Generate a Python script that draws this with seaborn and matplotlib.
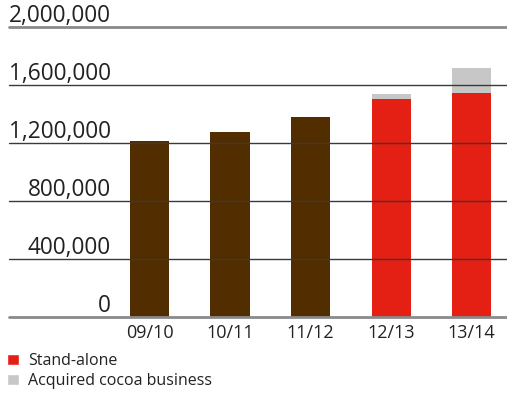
import matplotlib.pyplot as plt
import seaborn as sns
from matplotlib.patches import Patch

# sales volumes in tonnes
periods = ["09/10", "10/11", "11/12", "12/13", "13/14"]
stand_alone = [1213600, 1275900, 1378000, 1503000, 1545000]
acquired = [0, 0, 0, 37000, 172000]
bar_colors = ["#522d00", "#522d00", "#522d00", "#e41f13", "#e41f13"]
y_ticks = [0, 400000, 800000, 1200000, 1600000, 2000000]
y_labels = ["0", "400,000", "800,000", "1,200,000", "1,600,000", "2,000,000"]
legend_labels = ["Stand-alone", "Acquired cocoa business"]

RED = "#e41f13"
GREY = "#c6c7c6"

sns.set_style("white")
plt.rcParams["font.family"] = ["Open Sans", "DejaVu Sans"]

fig = plt.figure(figsize=(5.07, 3.93), dpi=100)
ax = fig.add_axes([9 / 507, 76 / 393, 498 / 507, 290 / 393])

totals = [s + a for s, a in zip(stand_alone, acquired)]
sns.barplot(x=periods, y=totals, color=GREY, width=0.485, saturation=1,
            linewidth=0, ax=ax)
sns.barplot(x=periods, y=stand_alone, hue=periods, palette=bar_colors,
            width=0.485, saturation=1, linewidth=0, legend=False, ax=ax)

ax.set_xlim(-1.745, 4.44)
ax.set_ylim(0, 2000000)
ax.set_yticks([])
ax.set_xlabel("")
ax.set_ylabel("")
for side in ax.spines.values():
    side.set_visible(False)

for value, label in zip(y_ticks, y_labels):
    edge = value in (0, 2000000)
    ax.axhline(value, color="#8a8a8a" if edge else "#3a3a3a",
               lw=2 if edge else 1, zorder=5, clip_on=False)
    ax.annotate(label, xy=(0.205, value), xycoords=("axes fraction", "data"),
                xytext=(0, 5), textcoords="offset pixels", ha="right",
                va="baseline", fontsize=16.3, color="#222222")

ax.tick_params(axis="x", length=0, pad=5, labelsize=13, labelcolor="#222222")

handles = [Patch(facecolor=RED), Patch(facecolor=GREY)]
fig.legend(handles, legend_labels, loc="upper left", bbox_to_anchor=(0.007, 0.11),
           frameon=False, fontsize=11.5, handlelength=0.75, handleheight=0.75,
           handletextpad=0.6, labelspacing=0.25, borderpad=0.2, borderaxespad=0,
           labelcolor="#222222")

fig.savefig("out.png", dpi=100)
